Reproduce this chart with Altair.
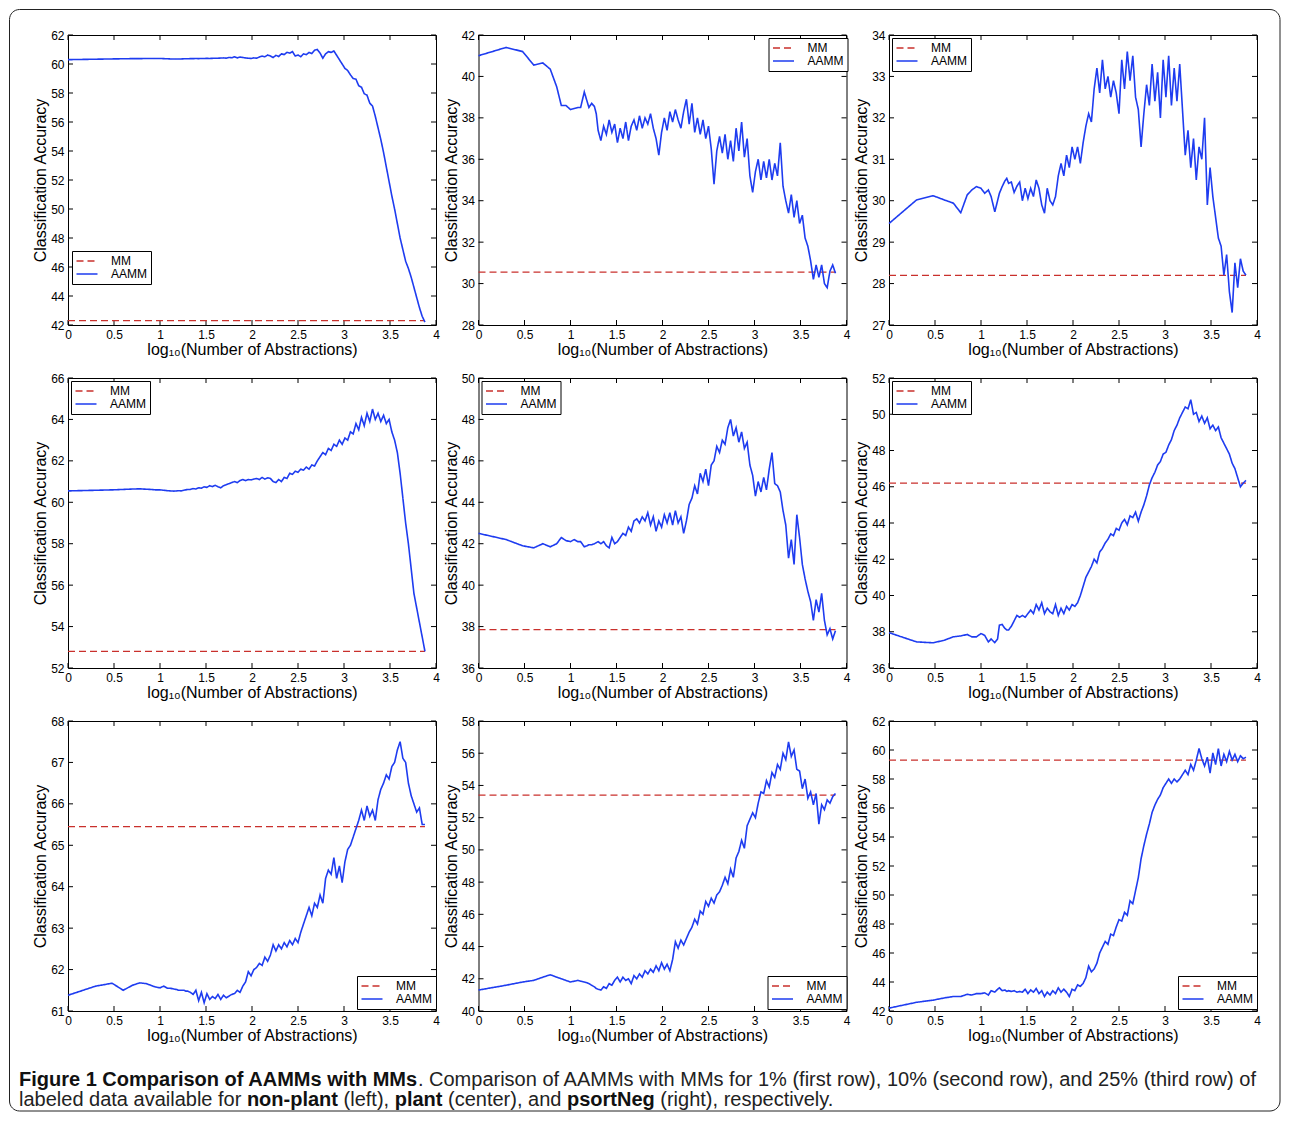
import altair as alt
import pandas as pd

# ---------------- data ----------------
X = [0, 0.30, 0.48, 0.60, 0.70, 0.78, 0.85, 0.90, 0.95, 1.00,
     1.04, 1.08, 1.11, 1.15, 1.18, 1.20, 1.23, 1.26, 1.28, 1.30,
     1.33, 1.36, 1.39, 1.42, 1.45, 1.48, 1.51, 1.54, 1.57, 1.60,
     1.63, 1.66, 1.69, 1.72, 1.75, 1.78, 1.81, 1.84, 1.87, 1.90,
     1.93, 1.96, 1.99, 2.02, 2.05, 2.08, 2.11, 2.14, 2.17, 2.20,
     2.23, 2.26, 2.29, 2.32, 2.35, 2.38, 2.41, 2.44, 2.47, 2.50,
     2.53, 2.56, 2.59, 2.62, 2.65, 2.68, 2.71, 2.74, 2.77, 2.80,
     2.83, 2.86, 2.89, 2.92, 2.95, 2.98, 3.01, 3.04, 3.07, 3.10,
     3.13, 3.16, 3.19, 3.22, 3.25, 3.28, 3.31, 3.34, 3.37, 3.40,
     3.43, 3.46, 3.49, 3.52, 3.55, 3.58, 3.61, 3.64, 3.67, 3.70,
     3.73, 3.76, 3.79, 3.82, 3.85, 3.88]

NONPLANT_1 = [60.30, 60.33, 60.35, 60.36, 60.37, 60.37, 60.38, 60.38, 60.38, 60.38,
              60.37, 60.36, 60.35, 60.34, 60.34, 60.35, 60.35, 60.36, 60.36, 60.36,
              60.37, 60.37, 60.38, 60.37, 60.38, 60.38, 60.39, 60.38, 60.39, 60.40,
              60.40, 60.41, 60.42, 60.40, 60.45, 60.43, 60.50, 60.42, 60.48, 60.45,
              60.42, 60.40, 60.38, 60.42, 60.40, 60.48, 60.55, 60.50, 60.62, 60.55,
              60.45, 60.60, 60.52, 60.70, 60.65, 60.80, 60.75, 60.85, 60.55, 60.62,
              60.50, 60.70, 60.65, 60.80, 60.72, 60.95, 61.00, 60.75, 60.40, 60.70,
              60.85, 60.80, 60.90, 60.60, 60.30, 60.00, 59.70, 59.55, 59.25, 59.00,
              58.95, 58.50, 58.40, 57.95, 57.85, 57.30, 57.10, 56.40, 55.60, 54.80,
              53.90, 52.90, 51.90, 50.90, 50.00, 49.00, 48.00, 47.20, 46.40, 45.90,
              45.30, 44.60, 43.90, 43.20, 42.60, 42.20]
PLANT_1 = [41.0, 41.4, 41.2, 40.55, 40.65, 40.35, 39.5, 38.6, 38.6, 38.4,
           38.45, 38.5, 38.5, 39.25, 38.8, 38.5, 38.7, 38.55, 38.2, 37.4,
           36.9, 37.6, 37.2, 37.9, 37.3, 37.7, 36.8, 37.5, 37.0, 37.8,
           36.9, 37.6, 37.9, 37.4, 38.1, 37.5, 38.0, 37.7, 38.2, 37.5,
           37.0, 36.2, 37.3, 38.0, 37.4, 38.3, 37.8, 38.4, 37.9, 37.5,
           38.3, 38.9, 37.7, 38.7, 37.3, 38.0, 37.2, 37.9, 37.0, 37.6,
           36.5, 34.8, 36.4, 37.1, 36.3, 37.2, 36.0, 36.9, 35.9, 37.5,
           36.4, 37.8, 36.1, 37.0, 35.2, 34.4, 35.4, 36.0, 35.0, 35.9,
           35.1, 36.0, 35.0, 35.8, 35.2, 36.8, 34.7, 34.0, 33.4, 34.3,
           33.2, 34.0, 32.9, 33.3, 32.2, 31.8, 31.1, 30.2, 30.9, 30.3,
           30.9, 30.0, 29.8, 30.6, 30.9, 30.5]
PSORTNEG_1 = [29.45, 30.02, 30.12, 30.02, 29.94, 29.71, 30.14, 30.26, 30.34, 30.30,
              30.18, 30.26, 30.10, 29.73, 30.00, 30.18, 30.34, 30.48, 30.54, 30.42,
              30.45, 30.20, 30.35, 30.45, 30.00, 30.30, 30.05, 30.30, 30.10, 30.50,
              30.30, 29.90, 29.70, 30.30, 30.00, 29.90, 30.10, 30.60, 30.90, 30.60,
              31.10, 30.80, 31.30, 31.00, 31.30, 30.90, 31.40, 31.80, 32.10, 31.90,
              32.70, 33.20, 32.60, 33.40, 32.70, 33.00, 32.50, 32.90, 32.60, 32.10,
              33.40, 32.70, 33.60, 32.90, 33.50, 32.50, 32.20, 31.30, 32.10, 32.80,
              32.30, 33.30, 32.40, 33.10, 32.00, 33.40, 32.50, 33.50, 32.30, 33.20,
              32.40, 33.30, 32.20, 31.10, 31.70, 30.80, 31.50, 30.50, 31.30, 31.00,
              32.00, 29.90, 30.80, 30.10, 29.60, 29.10, 28.90, 28.20, 28.70, 27.80,
              27.30, 28.50, 27.90, 28.60, 28.30, 28.20]
NONPLANT_10 = [60.55, 60.58, 60.60, 60.62, 60.64, 60.65, 60.63, 60.62, 60.60, 60.60,
               60.58, 60.56, 60.55, 60.54, 60.55, 60.56, 60.55, 60.58, 60.60, 60.62,
               60.62, 60.66, 60.64, 60.70, 60.68, 60.75, 60.72, 60.80, 60.76, 60.82,
               60.75, 60.70, 60.80, 60.85, 60.90, 60.95, 61.00, 60.95, 61.05, 61.10,
               61.05, 61.10, 61.08, 61.12, 61.15, 61.10, 61.20, 61.12, 61.18, 61.15,
               61.00, 60.95, 61.10, 61.00, 61.20, 61.15, 61.40, 61.35, 61.50, 61.45,
               61.60, 61.55, 61.70, 61.60, 61.80, 61.75, 62.00, 62.20, 62.40, 62.30,
               62.60, 62.50, 62.80, 62.70, 63.00, 62.80, 63.10, 63.00, 63.40, 63.30,
               63.80, 63.50, 64.10, 63.70, 64.30, 63.90, 64.50, 64.00, 64.30, 63.90,
               64.20, 63.80, 64.00, 63.40, 63.00, 62.40, 61.40, 60.20, 59.00, 58.00,
               56.80, 55.60, 54.90, 54.20, 53.50, 52.80]
PLANT_10 = [42.5, 42.2, 41.9, 41.8, 42.0, 41.85, 42.0, 42.3, 42.15, 42.1,
            42.2, 42.1, 42.1, 41.85, 41.9, 41.95, 41.95, 42.0, 42.05, 42.1,
            42.0, 42.1, 41.9, 41.8, 42.3, 42.0, 42.1, 42.3, 42.5, 42.4,
            42.8, 42.6, 43.1, 43.2, 43.0, 43.3, 43.1, 43.5, 42.9, 43.3,
            42.6, 43.1, 42.8, 43.4, 43.0, 43.5, 42.9, 43.6, 43.0, 43.3,
            42.5, 43.1, 43.9, 44.2, 44.8, 44.4, 45.4, 45.0, 45.6, 44.8,
            45.8, 46.0, 46.7, 46.4, 47.0, 46.8, 47.6, 48.0, 47.2, 47.6,
            46.9, 47.4, 46.6, 46.9, 45.8, 45.3, 44.3, 45.0, 44.5, 45.2,
            44.6, 45.6, 46.4, 44.9, 44.8, 44.5, 43.6, 42.9, 41.3, 42.2,
            41.0, 43.4, 42.3, 41.0, 40.3, 39.7, 39.2, 38.3, 39.3, 38.7,
            39.6, 38.3, 37.6, 37.9, 37.4, 37.8]
PSORTNEG_10 = [37.95, 37.44, 37.39, 37.53, 37.72, 37.77, 37.85, 37.72, 37.72, 37.90,
               37.80, 37.44, 37.60, 37.40, 37.60, 38.36, 38.40, 38.18, 38.10, 38.10,
               38.3, 38.6, 38.9, 38.8, 38.9, 38.8, 39.0, 39.2, 39.0, 39.5,
               39.2, 39.6, 39.0, 39.3, 39.1, 39.0, 39.5, 38.9, 39.3, 39.0,
               39.4, 39.2, 39.5, 39.4, 39.6, 40.0, 40.5, 41.0, 41.3, 41.6,
               42.0, 41.8, 42.4, 42.6, 42.9, 43.1, 43.4, 43.3, 43.7, 43.6,
               44.0, 44.2, 43.9, 44.4, 44.3, 44.6, 44.1, 44.6, 45.0, 45.5,
               46.1, 46.5, 46.8, 47.2, 47.4, 47.8, 47.9, 48.3, 48.6, 49.1,
               49.4, 49.8, 50.1, 50.4, 50.3, 50.8, 50.0, 50.1, 49.6, 49.9,
               49.5, 49.8, 49.2, 49.4, 49.1, 49.3, 48.7, 48.4, 48.1, 47.8,
               47.3, 47.0, 46.5, 46.0, 46.2, 46.35]
NONPLANT_25 = [61.38, 61.60, 61.67, 61.50, 61.62, 61.68, 61.66, 61.62, 61.58, 61.56,
               61.60, 61.55, 61.55, 61.53, 61.52, 61.50, 61.50, 61.50, 61.48, 61.48,
               61.45, 61.40, 61.50, 61.25, 61.45, 61.20, 61.42, 61.28, 61.35, 61.30,
               61.40, 61.28, 61.38, 61.32, 61.36, 61.40, 61.42, 61.50, 61.45, 61.60,
               61.70, 61.95, 61.85, 62.00, 62.05, 62.15, 62.10, 62.30, 62.20, 62.35,
               62.60, 62.45, 62.60, 62.50, 62.65, 62.55, 62.70, 62.60, 62.75, 62.65,
               62.90, 63.10, 63.30, 63.50, 63.30, 63.60, 63.50, 63.80, 63.60, 64.20,
               64.40, 64.30, 64.70, 64.20, 64.50, 64.10, 64.60, 64.90, 65.00, 65.20,
               65.40, 65.60, 65.85, 65.60, 65.95, 65.70, 65.85, 65.60, 66.10, 66.35,
               66.50, 66.70, 66.60, 66.90, 67.00, 67.30, 67.50, 67.10, 67.00, 66.50,
               66.20, 66.00, 65.80, 65.90, 65.50, 65.50]
PLANT_25 = [41.3, 41.6, 41.8, 41.9, 42.1, 42.25, 42.1, 42.0, 41.9, 41.8,
            41.85, 41.9, 41.85, 41.8, 41.75, 41.7, 41.6, 41.5, 41.4, 41.35,
            41.3, 41.5, 41.4, 41.7, 41.6, 41.9, 42.1, 41.8, 42.1, 41.9,
            42.0, 41.7, 42.2, 42.0, 42.3, 42.1, 42.5, 42.3, 42.6, 42.4,
            42.8, 42.5, 43.0, 42.6, 42.9, 42.5, 43.2, 44.3, 43.9, 44.4,
            44.1, 44.5, 44.9, 45.2, 45.7, 45.4, 46.2, 46.0, 46.8, 46.5,
            47.0, 46.7, 47.2, 47.4, 47.8, 48.3, 47.9, 48.8, 48.3, 49.5,
            49.9, 50.6, 50.1, 51.5, 51.9, 52.3, 52.0, 52.9, 53.6, 53.5,
            54.3, 53.9, 54.8, 54.5, 55.3, 55.0, 56.0, 55.6, 56.7, 55.8,
            56.2, 55.0, 54.9, 53.8, 54.4, 53.2, 53.6, 52.8, 53.5, 51.6,
            52.8, 52.5, 53.1, 52.9, 53.3, 53.5]
PSORTNEG_25 = [42.2, 42.6, 42.75, 42.9, 43.0, 43.0, 43.15, 43.1, 43.2, 43.2,
               43.25, 43.1, 43.4, 43.3, 43.5, 43.6, 43.4, 43.45, 43.35, 43.4,
               43.35, 43.4, 43.3, 43.35, 43.3, 43.5, 43.2, 43.45, 43.3, 43.55,
               43.2, 43.4, 43.0, 43.3, 43.1, 43.4, 43.2, 43.6, 43.3, 43.5,
               43.3, 43.0, 43.5, 43.4, 43.8, 43.7, 43.9, 44.3, 45.1, 44.7,
               44.9, 45.3, 46.0, 46.4, 46.8, 46.6, 47.3, 47.2, 47.8, 48.3,
               48.2, 48.8, 48.6, 49.6, 49.4, 50.3, 51.2, 52.5, 53.4, 54.2,
               54.9, 55.7, 56.2, 56.6, 56.9, 57.4, 57.7, 58.0, 57.7, 58.0,
               57.8, 58.0, 58.3, 58.6, 58.3, 59.0, 58.6, 59.3, 60.1, 59.4,
               58.9, 59.5, 58.4, 59.8, 59.0, 60.1, 58.9, 59.7, 59.2, 59.9,
               59.3, 59.7, 59.2, 59.6, 59.4, 59.5]

SERIES = [NONPLANT_1, PLANT_1, PSORTNEG_1,
          NONPLANT_10, PLANT_10, PSORTNEG_10,
          NONPLANT_25, PLANT_25, PSORTNEG_25]
MM = [42.3, 30.55, 28.2, 52.8, 37.85, 46.2, 65.45, 53.4, 59.3]
MM_END = 3.88
Y_DOMAINS = [[42, 62], [28, 42], [27, 34],
             [52, 66], [36, 50], [36, 52],
             [61, 68], [40, 58], [42, 62]]
Y_TICKS = [[42, 44, 46, 48, 50, 52, 54, 56, 58, 60, 62],
           [28, 30, 32, 34, 36, 38, 40, 42],
           [27, 28, 29, 30, 31, 32, 33, 34],
           [52, 54, 56, 58, 60, 62, 64, 66],
           [36, 38, 40, 42, 44, 46, 48, 50],
           [36, 38, 40, 42, 44, 46, 48, 50, 52],
           [61, 62, 63, 64, 65, 66, 67, 68],
           [40, 42, 44, 46, 48, 50, 52, 54, 56, 58],
           [42, 44, 46, 48, 50, 52, 54, 56, 58, 60, 62]]
X_TICKS = [0, 0.5, 1, 1.5, 2, 2.5, 3, 3.5, 4]
SERIES_NAMES = ["MM", "AAMM"]
X_TITLE = "log₁₀(Number of Abstractions)"
Y_TITLE = "Classification Accuracy"

CAPTION = [
    [("Figure 1 Comparison of AAMMs with MMs", True),
     (". Comparison of AAMMs with MMs for 1% (first row), 10% (second row), and 25% (third row) of", False)],
    [("labeled data available for ", False), ("non-plant", True), (" (left), ", False),
     ("plant", True), (" (center), and ", False), ("psortNeg", True),
     (" (right), respectively.", False)],
]

# ---------------- styling / layout ----------------
W, H = 368, 290
FONT = "Liberation Sans"
BLUE = "#1e3cf0"
RED = "#c9302c"
LEGEND_POS = [(4, 216), (290, 3), (3, 3),
              (3, 3), (3, 3), (3, 3),
              (289, 255), (289, 255), (289, 255)]
ROW_GAP, COL_GAP = 53, 42.5
CAP_FS = 20

REG = {' ': 278, '%': 889, '(': 333, ')': 333, ',': 278, '-': 333, '.': 278,
       'A': 667, 'C': 722, 'F': 611, 'M': 833, 'N': 722, 'a': 556, 'b': 556,
       'c': 500, 'd': 556, 'e': 556, 'f': 278, 'g': 556, 'h': 556, 'i': 222,
       'l': 222, 'm': 833, 'n': 556, 'o': 556, 'p': 556, 'r': 333, 's': 500,
       't': 278, 'u': 556, 'v': 500, 'w': 722, 'y': 500}
BOLD = {' ': 278, '-': 333, 'A': 722, 'C': 722, 'F': 611, 'M': 833, 'N': 722,
        'a': 556, 'c': 556, 'e': 556, 'f': 333, 'g': 611, 'h': 611, 'i': 278,
        'l': 278, 'm': 889, 'n': 611, 'o': 611, 'p': 611, 'r': 389, 's': 556,
        't': 333, 'u': 611, 'w': 778}


def text_width(s, bold):
    table = BOLD if bold else REG
    return sum(table.get(ch, 556) for ch in s) * CAP_FS / 1000.0


def panel(i):
    df_a = pd.DataFrame({"x": X, "y": SERIES[i], "series": "AAMM"})
    df_m = pd.DataFrame({"x": [0, MM_END], "y": [MM[i], MM[i]], "series": "MM"})
    lo, hi = Y_DOMAINS[i]
    lx, ly = LEGEND_POS[i]
    leg = alt.Legend(title=None, orient="none", legendX=lx, legendY=ly,
                     symbolType="M-2.1,0H2.1", symbolSize=100, symbolStrokeWidth=1.4,
                     symbolOffset=5, labelOffset=18, padding=4, rowPadding=1,
                     strokeColor="black", fillColor="white", cornerRadius=0,
                     labelFont=FONT, labelFontSize=12, labelColor="black")
    color = alt.Color("series:N", scale=alt.Scale(domain=SERIES_NAMES, range=[RED, BLUE]), legend=leg)
    dash = alt.StrokeDash("series:N", scale=alt.Scale(domain=SERIES_NAMES, range=[[7, 4], [1, 0]]), legend=leg)
    xenc = alt.X("x:Q", scale=alt.Scale(domain=[0, 4], nice=False, zero=False),
                 axis=alt.Axis(values=X_TICKS, format="~g", title=X_TITLE, labelFlush=False,
                               labelOverlap=False, labelPadding=4, titlePadding=1))
    yenc = alt.Y("y:Q", scale=alt.Scale(domain=[lo, hi], nice=False, zero=False),
                 axis=alt.Axis(values=Y_TICKS[i], title=Y_TITLE, labelOverlap=False,
                               labelPadding=4, titlePadding=2))
    tx = pd.DataFrame({"x": X_TICKS})
    ty = pd.DataFrame({"y": Y_TICKS[i]})
    rule = dict(color="black", strokeWidth=1)
    t1 = alt.Chart(tx).mark_rule(**rule).encode(x=xenc, y=alt.value(H), y2=alt.value(H - 5))
    t2 = alt.Chart(tx).mark_rule(**rule).encode(x=xenc, y=alt.value(0), y2=alt.value(5))
    t3 = alt.Chart(ty).mark_rule(**rule).encode(y=yenc, x=alt.value(0), x2=alt.value(5))
    t4 = alt.Chart(ty).mark_rule(**rule).encode(y=yenc, x=alt.value(W), x2=alt.value(W - 5))
    mm = alt.Chart(df_m).mark_line(strokeWidth=1.3).encode(x=xenc, y=yenc, color=color, strokeDash=dash)
    aa = alt.Chart(df_a).mark_line(strokeWidth=1.6).encode(x=xenc, y=yenc, color=color, strokeDash=dash)
    return alt.layer(t1, t2, t3, t4, mm, aa).properties(width=W, height=H)


def caption_chart():
    rows_b, rows_n = [], []
    baselines = [22, 42]
    for li, segs in enumerate(CAPTION):
        x = -49.0
        for s, b in segs:
            lead = len(s) - len(s.lstrip())
            xt = x + text_width(s[:lead], b)
            (rows_b if b else rows_n).append({"t": s.strip(), "px": xt, "py": baselines[li]})
            x += text_width(s, b)
    db = pd.DataFrame(rows_b)
    dn = pd.DataFrame(rows_n)
    enc = dict(x=alt.X("px:Q", scale=None), y=alt.Y("py:Q", scale=None), text="t:N")
    tb = alt.Chart(db).mark_text(align="left", baseline="alphabetic", font=FONT, fontSize=CAP_FS,
                                 fontWeight="bold", color="#111111").encode(**enc)
    tn = alt.Chart(dn).mark_text(align="left", baseline="alphabetic", font=FONT, fontSize=CAP_FS,
                                 fontWeight="normal", color="#222222").encode(**enc)
    top = -(3 * H + 3 * ROW_GAP) - 25.5
    frame = alt.Chart(pd.DataFrame({"k": [0]})).mark_rect(
        fillOpacity=0, stroke="#222222", strokeWidth=1, cornerRadius=10
    ).encode(x=alt.value(-58.5), x2=alt.value(1212), y=alt.value(top), y2=alt.value(47))
    return alt.layer(frame, tb, tn).properties(
        width=W, height=47, view=alt.ViewBackground(stroke="transparent"))


panels = [panel(i) for i in range(9)]
chart = alt.concat(*panels, caption_chart(), columns=3,
                   spacing={"row": ROW_GAP, "column": COL_GAP}, bounds="flush")
chart = chart.resolve_scale(color="independent", strokeDash="independent") \
             .resolve_legend(color="independent", strokeDash="independent")
chart = chart.properties(padding=0, background="white").configure_view(
    stroke="black", strokeWidth=1
).configure_axis(
    labelFont=FONT, titleFont=FONT, labelFontSize=12, titleFontSize=16,
    labelColor="black", titleColor="black", titleFontWeight="normal",
    ticks=False, domain=False, grid=False
)

chart.save("out.html", embed_options={"renderer": "svg", "actions": False})
